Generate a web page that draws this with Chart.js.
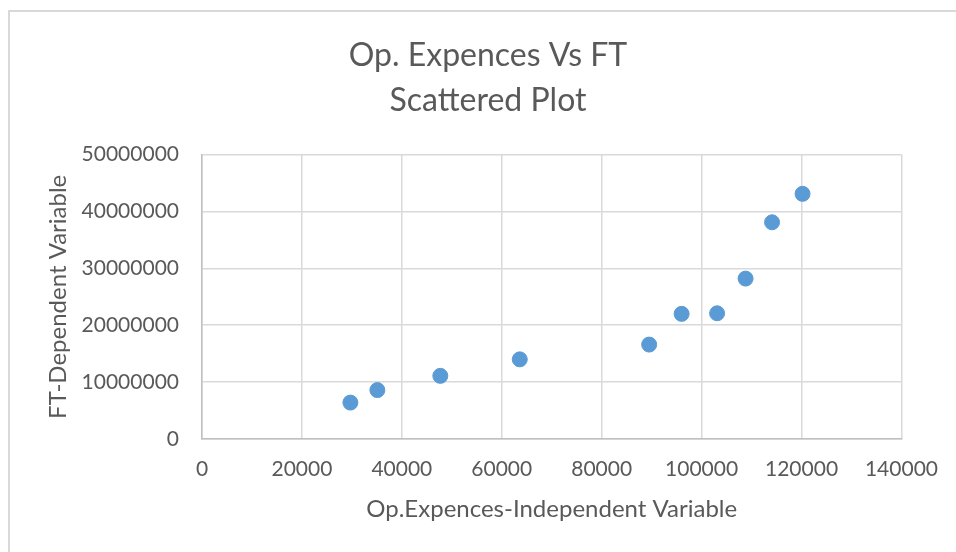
<!DOCTYPE html>
<html lang="en">
<head>
    <meta charset="UTF-8">
    <title>Op. Expences Vs FT</title>
    <script src="https://cdn.jsdelivr.net/npm/chart.js@4.4.0/dist/chart.umd.min.js"></script>
    <style>
        html, body {
            margin: 0;
            padding: 0;
            background: #ffffff;
        }
        #frame{
            position: absolute;
            left: 8px;
            top: 10px;
            width: 960px;
            height: 560px;
            border-left: 2px solid #d9d9d9;
            border-top: 2px solid #d9d9d9;
        }
        #wrap{
            position: absolute;
            left: 0;
            top: 0;
            width: 956px;
            height: 552px;
        }
    </style>
</head>
<body>
    <div id="frame"></div>
    <div id="wrap">
        <canvas id="myChart" width="956" height="552"></canvas>
    </div>
<script>
// valores
const opExpences = [29700, 35100, 47700, 63600, 89500, 96000, 103100, 108800, 114100, 120200];
const ftValues = [6400000, 8600000, 11100000, 14000000, 16600000, 22000000, 22100000, 28200000, 38100000, 43100000];

const xTicks = [0, 20000, 40000, 60000, 80000, 100000, 120000, 140000];
const yTicks = [0, 10000000, 20000000, 30000000, 40000000, 50000000];

const titulo = ['Op. Expences Vs FT', 'Scattered Plot'];
const tituloX = 'Op.Expences-Independent Variable';
const tituloY = 'FT-Dependent Variable';

const pontos = opExpences.map((x, i) => ({x: x, y: ftValues[i]}));

const cinza = '#595959';
const fonte = 'Lato, "Open Sans", sans-serif';

const ctx = document.getElementById('myChart').getContext('2d');
new Chart(ctx, {
    type: 'scatter',
    data: {
        datasets: [{
            label: 'FT',
            data: pontos,
            backgroundColor: '#5B9BD5',
            borderColor: '#5B9BD5',
            borderWidth: 1,
            pointRadius: 7.5
        }]
    },
    options: {
        responsive: false,
        animation: false,
        layout: {
            padding: {left: 74, right: 54, top: 0, bottom: 0}
        },
        plugins: {
            legend: {display: false},
            tooltip: {enabled: false},
            title: {
                display: true,
                text: titulo,
                color: cinza,
                font: {family: fonte, size: 32, weight: 'normal', lineHeight: 1.4},
                padding: {top: 33, bottom: 32}
            }
        },
        scales: {
            x: {
                type: 'linear',
                min: xTicks[0],
                max: xTicks[xTicks.length - 1],
                afterFit: (s) => { s.height = 113; },
                afterBuildTicks: (s) => { s.ticks = xTicks.map(v => ({value: v})); },
                ticks: {
                    color: cinza,
                    font: {family: fonte, size: 21},
                    padding: 18,
                    maxRotation: 0,
                    callback: (v) => String(v)
                },
                grid: {color: '#d9d9d9', lineWidth: 1.5, drawTicks: false},
                border: {color: '#bfbfbf', width: 1.5},
                title: {
                    display: true,
                    text: tituloX,
                    color: cinza,
                    font: {family: fonte, size: 24},
                    padding: {top: 0, bottom: 28}
                }
            },
            y: {
                type: 'linear',
                min: yTicks[0],
                max: yTicks[yTicks.length - 1],
                afterFit: (s) => { s.width = 128; },
                afterBuildTicks: (s) => { s.ticks = yTicks.map(v => ({value: v})); },
                ticks: {
                    color: cinza,
                    font: {family: fonte, size: 21},
                    padding: 23,
                    callback: (v) => String(v)
                },
                grid: {color: '#d9d9d9', lineWidth: 1.5, drawTicks: false},
                border: {color: '#bfbfbf', width: 1.5},
                title: {
                    display: true,
                    text: tituloY,
                    color: cinza,
                    font: {family: fonte, size: 24},
                    padding: {top: -30, bottom: 0}
                }
            }
        }
    }
});
</script>
</body>
</html>
